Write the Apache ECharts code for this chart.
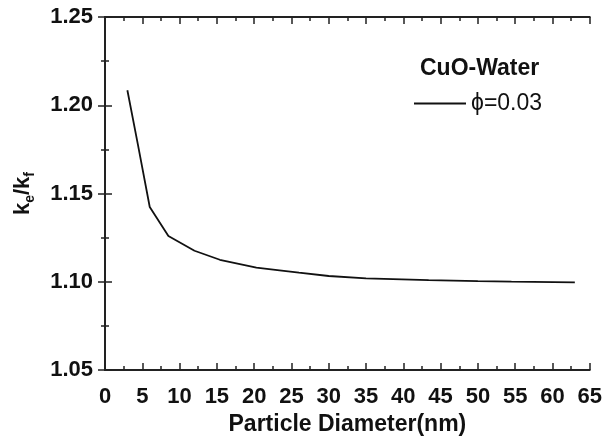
<!DOCTYPE html>
<html>
<head>
<meta charset="utf-8">
<script src="https://cdn.jsdelivr.net/npm/echarts@6/dist/echarts.min.js"></script>
<style>
  html, body { margin: 0; padding: 0; background: #fff; }
  #main { width: 605px; height: 441px; }
</style>
</head>
<body>
<div id="main"></div>
<script>
// particle diameter (nm) and effective conductivity ratio
var diameter = [3, 4.4, 6, 8.5, 12, 15.4, 20.3, 23.4, 26, 30, 35, 43.4, 50, 54.5, 63];
var kRatio = [1.2085, 1.178, 1.1424, 1.126, 1.1176, 1.1125, 1.108, 1.1065, 1.1052, 1.1033, 1.102, 1.101, 1.1004, 1.1001, 1.0997];
var xTicks = [0, 65, 5];
var yTicks = [1.05, 1.25, 0.05];

var points = [];
for (var i = 0; i < diameter.length; i++) {
    points.push([diameter[i], kRatio[i]]);
}

var myChart = echarts.init(document.getElementById('main'));
var font = 'Liberation Sans, Arial, sans-serif';
var lineCol = '#222';

// the frame: same tick style on all four sides
function frameAxis(extra) {
    var ax = {
        type: 'value',
        axisLine: { show: true, lineStyle: { color: lineCol, width: 2 } },
        axisTick: { inside: true, length: 7, lineStyle: { color: lineCol, width: 1.5 } },
        minorTick: { show: true, splitNumber: 2, length: 4, lineStyle: { color: lineCol, width: 1.5 } },
        axisLabel: { show: false },
        splitLine: { show: false }
    };
    for (var k in extra) ax[k] = extra[k];
    return ax;
}

var option = {
    animation: false,
    title: {
        text: 'CuO-Water',
        left: 415,
        top: 52,
        textStyle: { fontFamily: font, fontSize: 23, fontWeight: 'bold', color: '#111' }
    },
    legend: {
        data: [{ name: 'ϕ=0.03', icon: 'rect' }],
        left: 409,
        top: 87,
        itemWidth: 52,
        itemHeight: 2,
        textStyle: { fontFamily: font, fontSize: 23, color: '#111' }
    },
    grid: { left: 105, right: 13, top: 17, bottom: 69 },
    xAxis: [frameAxis({
        min: xTicks[0], max: xTicks[1], interval: xTicks[2],
        name: 'Particle Diameter(nm)',
        nameLocation: 'middle',
        nameGap: 30,
        nameTextStyle: { fontFamily: font, fontSize: 23, fontWeight: 'bold', color: '#111' },
        axisLabel: { fontFamily: font, fontSize: 22, fontWeight: 'bold', color: '#111', margin: 16 }
    }), frameAxis({
        position: 'top',
        min: xTicks[0], max: xTicks[1], interval: xTicks[2]
    })],
    yAxis: [frameAxis({
        min: yTicks[0], max: yTicks[1], interval: yTicks[2],
        name: '{a|k}{b|e}{a|/k}{b|f}',
        nameLocation: 'middle',
        nameRotate: 90,
        nameGap: 71,
        nameTextStyle: {
            rich: {
                a: { fontFamily: font, fontSize: 22, fontWeight: 'bold', color: '#111', lineHeight: 26, verticalAlign: 'bottom' },
                b: { fontFamily: font, fontSize: 14, fontWeight: 'bold', color: '#111', lineHeight: 26, verticalAlign: 'bottom', padding: [0, 0, -3, 0] }
            }
        },
        axisLabel: {
            fontFamily: font, fontSize: 22, fontWeight: 'bold', color: '#111', margin: 12,
            formatter: function (v) { return v.toFixed(2); }
        }
    }), frameAxis({
        position: 'right',
        min: yTicks[0], max: yTicks[1], interval: yTicks[2]
    })],
    series: [{
        name: 'ϕ=0.03',
        type: 'line',
        data: points,
        symbol: 'none',
        lineStyle: { color: '#111', width: 1.8 },
        itemStyle: { color: '#111' }
    }]
};

myChart.setOption(option);
</script>
</body>
</html>
